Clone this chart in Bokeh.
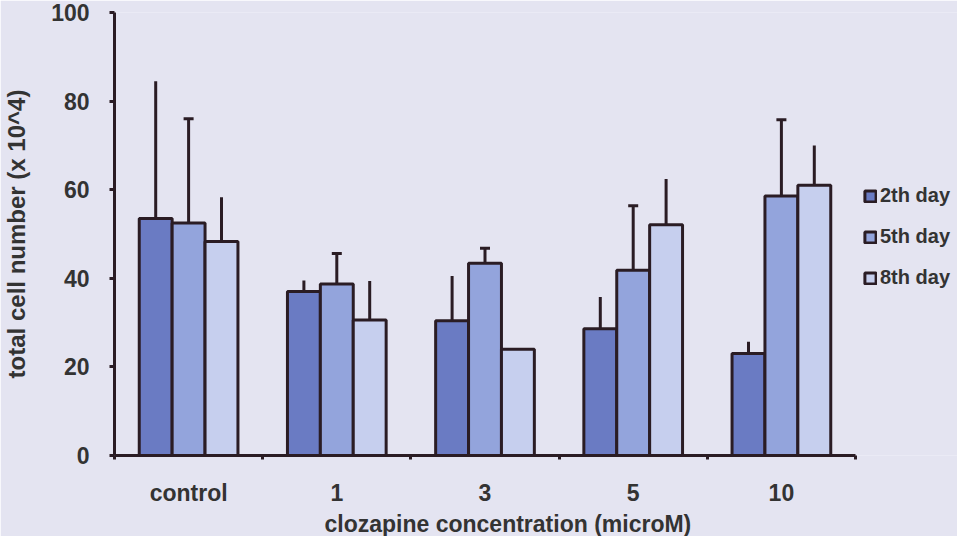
from bokeh.plotting import figure
from bokeh.models import (ColumnDataSource, FixedTicker, Legend, LegendItem,
                          Whisker, TeeHead, Title)
from bokeh.embed import file_html
from bokeh.resources import INLINE

categories = ["control", "1", "3", "5", "10"]
series = ["2th day", "5th day", "8th day"]
mean_2th = [53.5, 37.0, 30.4, 28.6, 23.0]
mean_5th = [52.5, 38.7, 43.4, 41.8, 58.6]
mean_8th = [48.3, 30.6, 24.0, 52.1, 61.0]
err_2th = [31.0, 2.5, 10.1, 7.2, 2.7]
err_5th = [23.5, 6.9, 3.4, 14.6, 17.2]
err_8th = [10.0, 8.8, 0.0, 10.3, 9.0]
y_ticks = [0, 20, 40, 60, 80, 100]
x_label = "clozapine concentration (microM)"
y_label = "total cell number (x 10^4)"

means = [mean_2th, mean_5th, mean_8th]
errs = [err_2th, err_5th, err_8th]
colors = ["#6a7bc3", "#93a4dc", "#c6cfee"]
caps = [False, True, False]
offsets = [-0.222, 0.0, 0.222]

BG = "#e4e4f1"
DARK = "#2a1c24"
TXT = "#333333"
FONT = "Liberation Sans"

W, H = 957, 536
LEFT, TOP, BOTTOM = 114, 12, 77
AXIS_PX = 741  # pixel length of the category axis
n = len(categories)
x_end = n * (W - LEFT) / AXIS_PX  # frame extends to the right edge to host the legend

p = figure(width=W, height=H, x_range=(0, x_end), y_range=(0, 100),
           output_backend="svg", toolbar_location=None,
           min_border_left=LEFT, min_border_right=0, min_border_top=TOP,
           min_border_bottom=BOTTOM)
p.background_fill_color = BG
p.border_fill_color = BG
p.outline_line_color = None
p.grid.visible = False

centers = [i + 0.5 for i in range(n)]
items = []
for k in range(3):
    src = ColumnDataSource(dict(
        x=[c + offsets[k] for c in centers],
        mean=means[k],
        upper=[m + e for m, e in zip(means[k], errs[k])],
    ))
    r = p.vbar(x="x", top="mean", bottom=0, width=0.222, source=src,
               fill_color=colors[k], line_color=DARK, line_width=3)
    items.append(LegendItem(label=series[k], renderers=[r]))
    w = Whisker(source=src, base="x", lower="mean", upper="upper",
                dimension="height", line_color=DARK, line_width=3,
                lower_head=None,
                upper_head=TeeHead(size=10, line_width=3, line_color=DARK) if caps[k] else None)
    p.add_layout(w)

# axes
xa = p.xaxis[0]
xa.bounds = (0, n)
xa.ticker = FixedTicker(ticks=centers, minor_ticks=list(range(n + 1)))
xa.major_label_overrides = {c: lab for c, lab in zip(centers, categories)}
xa.major_tick_line_color = None
xa.major_tick_out = 0
xa.major_tick_in = 0
xa.minor_tick_line_color = DARK
xa.minor_tick_line_width = 3
xa.minor_tick_out = 4
xa.minor_tick_in = 0
xa.major_label_standoff = 20

ya = p.yaxis[0]
ya.ticker = FixedTicker(ticks=y_ticks, minor_ticks=[])
ya.major_tick_line_color = DARK
ya.major_tick_line_width = 3
ya.major_tick_out = 5
ya.major_tick_in = 0
ya.major_label_standoff = 20
ya.axis_label = y_label
ya.axis_label_standoff = 18

for ax in (xa, ya):
    ax.axis_line_color = DARK
    ax.axis_line_width = 3
    ax.major_label_text_font = FONT
    ax.major_label_text_font_style = "bold"
    ax.major_label_text_font_size = "23px"
    ax.major_label_text_color = TXT
    ax.axis_label_text_font = FONT
    ax.axis_label_text_font_style = "bold"
    ax.axis_label_text_font_size = "24px"
    ax.axis_label_text_color = TXT

xt = Title(text=x_label, align="left", offset=210, standoff=0,
           text_font=FONT, text_font_style="bold", text_font_size="23px",
           text_color=TXT)
p.add_layout(xt, "below")

legend = Legend(items=items, location=(749, 166), orientation="vertical",
                glyph_width=14, glyph_height=14, label_height=20,
                label_width=40, spacing=18, padding=0, margin=0,
                label_standoff=3, border_line_color=None,
                background_fill_alpha=0,
                label_text_font=FONT, label_text_font_style="bold",
                label_text_font_size="20px", label_text_color=TXT)
p.add_layout(legend, "center")

open("out.html", "w").write(file_html(p, INLINE))
